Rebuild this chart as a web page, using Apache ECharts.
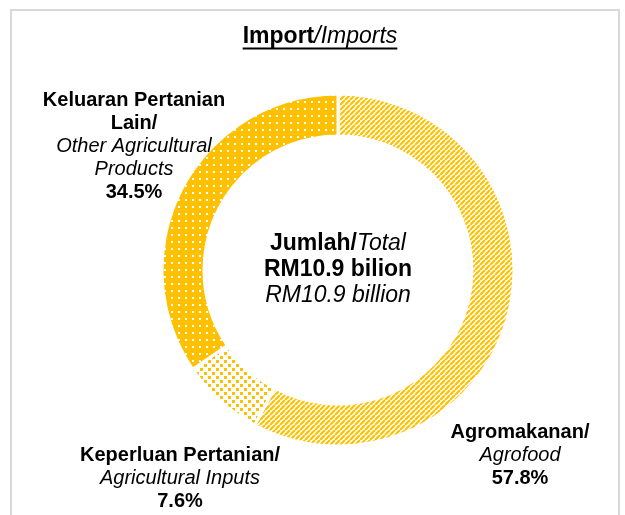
<!DOCTYPE html>
<html>
<head>
<meta charset="utf-8">
<script src="https://cdn.jsdelivr.net/npm/echarts@6/dist/echarts.min.js"></script>
<style>
  html, body { margin: 0; padding: 0; background: #fff; }
  #main { width: 625px; height: 515px; }
</style>
</head>
<body>
<div id="main"></div>
<script>
var chartDom = document.getElementById('main');
var myChart = echarts.init(chartDom);
var option;

// data
const namesMalay = ['Agromakanan', 'Keperluan Pertanian', 'Keluaran Pertanian\nLain'];
const namesEnglish = ['Agrofood', 'Agricultural Inputs', 'Other Agricultural\nProducts'];
const shares = [57.8, 7.6, 34.5];
const totalBillion = 10.9;

const FONT = 'Arial, "Liberation Sans", sans-serif';
const yellow = '#FFC000';
const textColor = '#000';

// where each slice label block is centred
const labelAnchors = [[520, 455], [180, 478], [134, 146]];

function makeTile(size, draw) {
  const c = document.createElement('canvas');
  c.width = size;
  c.height = size;
  draw(c.getContext('2d'), size);
  return c;
}

// Agrofood: diagonal "/" stripes
const stripeTile = makeTile(5, function (ctx, s) {
  ctx.fillStyle = '#fff';
  ctx.fillRect(0, 0, s, s);
  ctx.strokeStyle = yellow;
  ctx.lineWidth = 2.2;
  ctx.beginPath();
  for (let k = -1; k <= 1; k++) {
    ctx.moveTo(k * s, s);
    ctx.lineTo(k * s + s, 0);
  }
  ctx.stroke();
});

// Agricultural inputs: small yellow squares, staggered
const checkTile = makeTile(8, function (ctx, s) {
  ctx.fillStyle = '#fff';
  ctx.fillRect(0, 0, s, s);
  ctx.fillStyle = yellow;
  ctx.fillRect(0, 0, 3, 3);
  ctx.fillRect(4, 4, 3, 3);
});

// Other products: solid yellow with white dots
const dotTile = makeTile(7, function (ctx, s) {
  ctx.fillStyle = yellow;
  ctx.fillRect(0, 0, s, s);
  ctx.fillStyle = '#fff';
  ctx.fillRect(3, 3, 2, 2);
});

const tiles = [stripeTile, checkTile, dotTile];

function sliceLabel(i) {
  const malay = namesMalay[i].split('\n');
  malay[malay.length - 1] += '/';
  const eng = namesEnglish[i].split('\n');
  const lines = malay.map(l => '{b|' + l + '}')
    .concat(eng.map(l => '{i|' + l + '}'))
    .concat(['{b|' + shares[i].toFixed(1) + '%}']);
  return lines.join('\n');
}

const labelRich = {
  b: { fontFamily: FONT, fontWeight: 'bold', fontSize: 20, lineHeight: 23, color: textColor },
  i: { fontFamily: FONT, fontStyle: 'italic', fontSize: 20, lineHeight: 23, color: textColor }
};

const centerRich = {
  b: { fontFamily: FONT, fontWeight: 'bold', fontSize: 23, lineHeight: 26, color: textColor },
  i: { fontFamily: FONT, fontStyle: 'italic', fontSize: 23, lineHeight: 26, color: textColor }
};

// measure the title so the underline fits it
const measure = document.createElement('canvas').getContext('2d');
measure.font = 'bold 23px ' + FONT;
let titleWidth = measure.measureText('Import').width;
measure.font = 'italic 23px ' + FONT;
titleWidth += measure.measureText('/Imports').width;
const titleX = 320;

option = {
  animation: false,
  backgroundColor: '#fff',
  graphic: [
    {
      type: 'rect',
      shape: { x: 11, y: 10, width: 608, height: 540 },
      style: { fill: 'none', stroke: '#d9d9d9', lineWidth: 2 },
      silent: true
    },
    {
      type: 'text',
      x: titleX,
      y: 37,
      style: {
        text: '{b|Import}{i|/Imports}',
        align: 'center',
        verticalAlign: 'middle',
        rich: {
          b: { fontFamily: FONT, fontWeight: 'bold', fontSize: 23, color: textColor },
          i: { fontFamily: FONT, fontStyle: 'italic', fontSize: 23, color: textColor }
        }
      }
    },
    {
      type: 'line',
      shape: { x1: titleX - titleWidth / 2, y1: 48.5, x2: titleX + titleWidth / 2, y2: 48.5 },
      style: { stroke: textColor, lineWidth: 2 },
      silent: true
    },
    {
      type: 'text',
      x: 338,
      y: 270,
      style: {
        text: '{b|Jumlah/}{i|Total}\n{b|RM' + totalBillion.toFixed(1) + ' bilion}\n{i|RM' + totalBillion.toFixed(1) + ' billion}',
        align: 'center',
        verticalAlign: 'middle',
        rich: centerRich
      }
    }
  ],
  series: [
    {
      type: 'pie',
      center: [338, 270],
      radius: [134, 176],
      startAngle: 90,
      clockwise: true,
      avoidLabelOverlap: false,
      emphasis: { disabled: true },
      itemStyle: { borderColor: '#fff', borderWidth: 3 },
      label: {
        show: true,
        position: 'outside',
        formatter: p => sliceLabel(p.dataIndex),
        rich: labelRich
      },
      labelLine: { show: false },
      labelLayout: function (p) {
        const a = labelAnchors[p.dataIndex];
        return { x: a[0], y: a[1], align: 'center', verticalAlign: 'middle' };
      },
      data: shares.map((v, i) => ({
        value: v,
        name: namesEnglish[i],
        itemStyle: { color: { image: tiles[i], repeat: 'repeat' } }
      }))
    }
  ]
};

option && myChart.setOption(option);
</script>
</body>
</html>
